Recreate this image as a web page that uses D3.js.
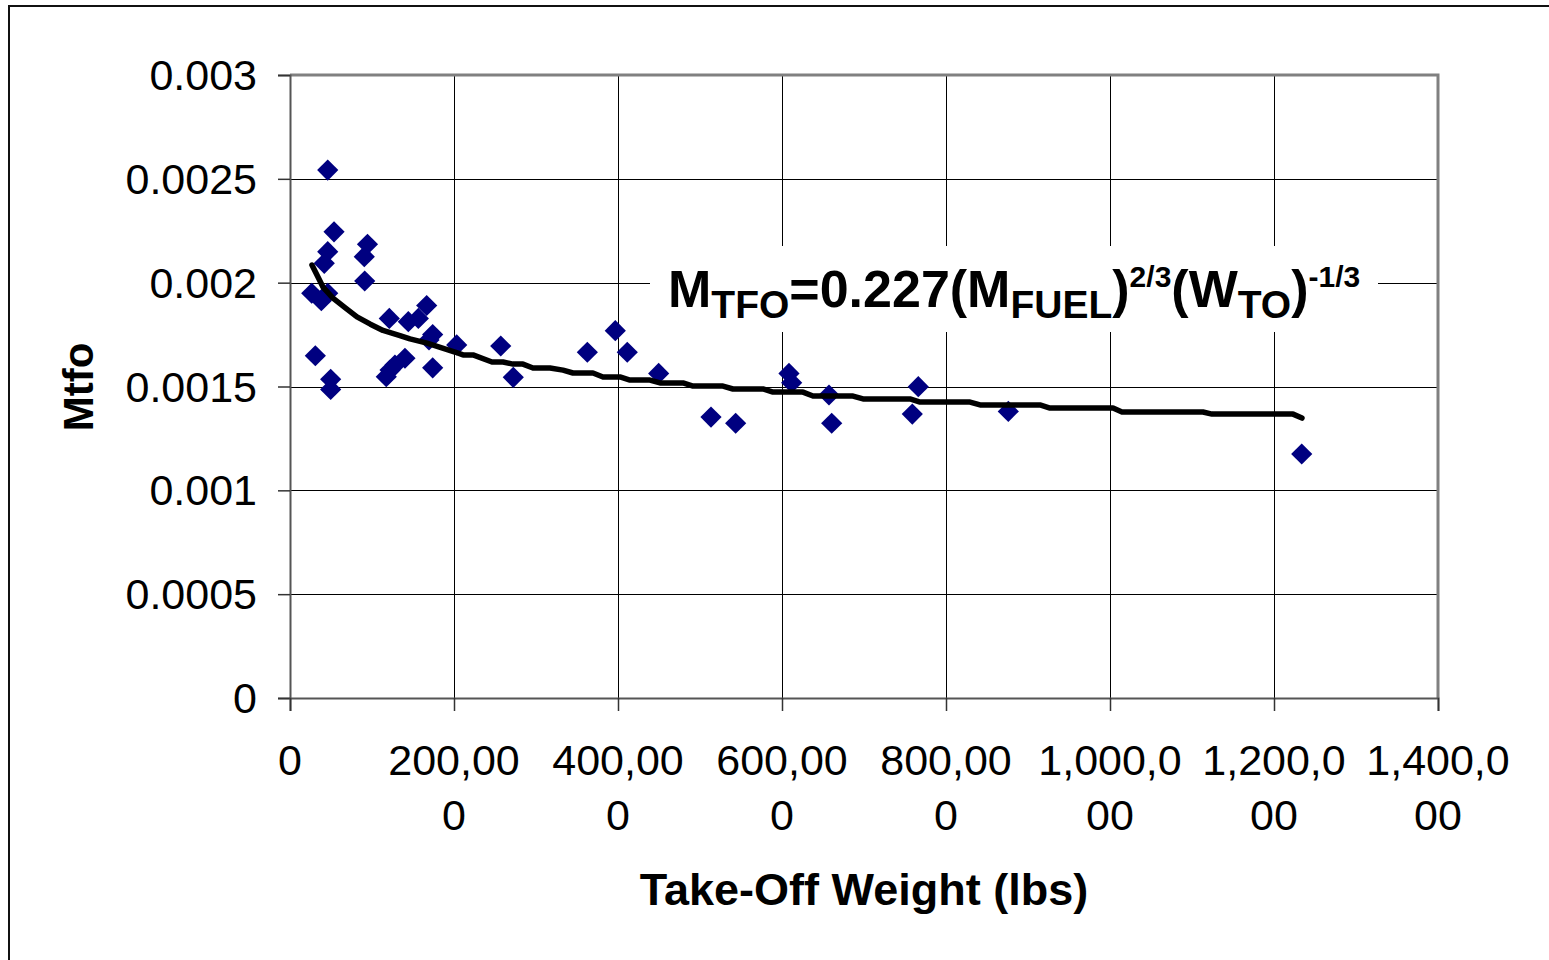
<!DOCTYPE html>
<html>
<head>
<meta charset="utf-8">
<script src="https://cdn.jsdelivr.net/npm/d3@7"></script>
<style>
  html, body { margin: 0; padding: 0; background: #fff; }
  svg { display: block; font-family: "Liberation Sans", Arial, Helvetica, sans-serif; }
</style>
</head>
<body>
<svg id="chart" width="1549" height="960"></svg>
<script>
// Take-off weight (lbs) of each aircraft in the sample
const takeOffWeight = [
  46000, 53700, 94500, 46000, 41800, 90600, 91100, 26500, 46000, 38200,
  121100, 30900, 49600, 49600, 117400, 122000, 128000, 140200, 144300, 156500,
  166700, 174000, 169500, 203300, 174000, 257000, 272300, 362600, 396700, 411300,
  449600, 513400, 543500, 608500, 611800, 657300, 660600, 766200, 758900, 876000,
  1233800
];
// Trapped fuel and oil fraction, Mtfo
const mtfo = [
  0.002542, 0.002245, 0.002185, 0.002149, 0.002093, 0.002125, 0.002008, 0.001949, 0.001949, 0.001913,
  0.001828, 0.001648, 0.001535, 0.001486, 0.001547, 0.001579, 0.001603, 0.001636, 0.001812, 0.001828,
  0.001890, 0.001750, 0.001724, 0.001700, 0.001590, 0.001695, 0.001544, 0.001665, 0.001769, 0.001665,
  0.001563, 0.001353, 0.001323, 0.001563, 0.001518, 0.001459, 0.001323, 0.001499, 0.001367, 0.001380,
  0.001175
];

// Fitted curve M_TFO = 0.227 (M_FUEL)^(2/3) (W_TO)^(-1/3), as tabulated
const fitWeight = [
  26800, 40200, 52400, 67100, 81700, 98000, 113400, 134100, 146300, 167100, 201200, 211000,
  223200, 246300, 259800, 272000, 284100, 296300, 317100, 332900, 345100, 369500,
  381700, 402400, 414600, 439000, 451200, 479300, 491500, 528000, 540200, 576800,
  589000, 625600, 637800, 686600, 698800, 756100, 768300, 829300, 841500, 914600,
  926800, 1003700, 1014600, 1113400, 1124400, 1223200, 1234100
];
const fitMtfo = [
  0.002085, 0.001979, 0.001926, 0.001880, 0.001835, 0.001800, 0.001770, 0.001745, 0.001729, 0.001709, 0.001666, 0.001652,
  0.001652, 0.001618, 0.001618, 0.001608, 0.001608, 0.001589, 0.001589, 0.001579, 0.001565, 0.001565,
  0.001546, 0.001546, 0.001531, 0.001531, 0.001517, 0.001517, 0.001502, 0.001502, 0.001488, 0.001488,
  0.001473, 0.001473, 0.001454, 0.001454, 0.001440, 0.001440, 0.001425, 0.001425, 0.001411, 0.001411,
  0.001396, 0.001396, 0.001377, 0.001377, 0.001367, 0.001367, 0.001348
];

// Axis ticks and their labels (x labels wrap onto two lines)
const xTicks = [0, 200000, 400000, 600000, 800000, 1000000, 1200000, 1400000];
const xTickLines = [["0"], ["200,00", "0"], ["400,00", "0"], ["600,00", "0"], ["800,00", "0"],
                    ["1,000,0", "00"], ["1,200,0", "00"], ["1,400,0", "00"]];
const yTicks = [0, 0.0005, 0.001, 0.0015, 0.002, 0.0025, 0.003];
const yTickLabels = ["0", "0.0005", "0.001", "0.0015", "0.002", "0.0025", "0.003"];

const xTitle = "Take-Off Weight (lbs)";
const yTitle = "Mtfo";

const svg = d3.select("#chart");
const plot = { left: 290, right: 1438, top: 75, bottom: 698 };

const x = d3.scaleLinear().domain([0, 1400000]).range([plot.left, plot.right]);
const y = d3.scaleLinear().domain([0, 0.003]).range([plot.bottom, plot.top]);

// Outer chart frame
svg.append("rect")
  .attr("x", 9).attr("y", 6).attr("width", 1620).attr("height", 1020)
  .attr("fill", "#fff").attr("stroke", "#111").attr("stroke-width", 2);

// Gridlines
const grid = svg.append("g");
grid.selectAll("line.h").data(yTicks.slice(1)).join("line")
  .attr("x1", plot.left).attr("x2", plot.right)
  .attr("y1", d => Math.round(y(d)) + 0.5).attr("y2", d => Math.round(y(d)) + 0.5)
  .attr("stroke", "#000").attr("stroke-width", 1);
grid.selectAll("line.v").data(xTicks.slice(1, -1)).join("line")
  .attr("y1", plot.top).attr("y2", plot.bottom)
  .attr("x1", d => Math.round(x(d)) + 0.5).attr("x2", d => Math.round(x(d)) + 0.5)
  .attr("stroke", "#000").attr("stroke-width", 1);

// Plot area frame (top and right)
svg.append("path")
  .attr("d", `M${plot.left},${plot.top} H${plot.right} V${plot.bottom}`)
  .attr("fill", "none").attr("stroke", "#808080").attr("stroke-width", 3);

// White panel behind the equation
svg.append("rect")
  .attr("x", 650).attr("y", 246).attr("width", 728).attr("height", 86)
  .attr("fill", "#fff");

// Axes
const yAxis = d3.axisLeft(y).tickValues(yTicks).tickSize(12).tickFormat("");
svg.append("g").attr("transform", `translate(${plot.left},0)`).call(yAxis)
  .call(g => g.select(".domain").attr("stroke", "#555").attr("stroke-width", 2))
  .call(g => g.selectAll(".tick line").attr("stroke", "#333").attr("stroke-width", 1.5));
const xAxis = d3.axisBottom(x).tickValues(xTicks).tickSize(13).tickFormat("");
svg.append("g").attr("transform", `translate(0,${plot.bottom})`).call(xAxis)
  .call(g => g.select(".domain").attr("stroke", "#555").attr("stroke-width", 2))
  .call(g => g.selectAll(".tick line").attr("stroke", "#333").attr("stroke-width", 1.5));

// Y tick labels
svg.append("g").selectAll("text").data(yTicks).join("text")
  .attr("x", 257).attr("y", d => y(d) + 15)
  .attr("text-anchor", "end").attr("font-size", 43).attr("fill", "#000")
  .text((d, i) => yTickLabels[i]);

// X tick labels, two lines each
const xl = svg.append("g").selectAll("text").data(xTicks).join("text")
  .attr("text-anchor", "middle").attr("font-size", 43).attr("fill", "#000");
xl.each(function (d, i) {
  const t = d3.select(this);
  xTickLines[i].forEach((line, k) => {
    t.append("tspan").attr("x", x(d)).attr("y", 775 + k * 55).text(line);
  });
});

// Axis titles
svg.append("text")
  .attr("x", (plot.left + plot.right) / 2).attr("y", 905)
  .attr("text-anchor", "middle").attr("font-size", 45).attr("font-weight", "bold")
  .text(xTitle);
svg.append("text")
  .attr("transform", "translate(93,387) rotate(-90)")
  .attr("text-anchor", "middle").attr("font-size", 42).attr("font-weight", "bold")
  .text(yTitle);

// Data points
const pts = takeOffWeight.map((w, i) => ({ w, m: mtfo[i] }));
svg.append("g").selectAll("path").data(pts).join("path")
  .attr("d", d3.symbol().type(d3.symbolSquare).size(225))
  .attr("transform", d => `translate(${x(d.w)},${y(d.m)}) rotate(45)`)
  .attr("fill", "#000080");

// Fitted curve
const fit = fitWeight.map((w, i) => ({ w, m: fitMtfo[i] }));
svg.append("path")
  .datum(fit)
  .attr("d", d3.line().x(d => x(d.w)).y(d => y(d.m)))
  .attr("fill", "none").attr("stroke", "#000").attr("stroke-width", 5.5)
  .attr("stroke-linejoin", "round").attr("stroke-linecap", "round");

// Equation label
const eq = svg.append("text").attr("x", 668).attr("font-weight", "bold").attr("fill", "#000");
const parts = [
  ["M", 52, 307], ["TFO", 39, 318], ["=0.227(M", 52, 307], ["FUEL", 39, 318],
  [")", 52, 307], ["2/3", 30, 287], ["(W", 52, 307], ["TO", 39, 318],
  [")", 52, 307], ["-1/3", 30, 287]
];
parts.forEach(([s, fs, by]) => {
  eq.append("tspan").attr("y", by).attr("font-size", fs).text(s);
});
</script>
</body>
</html>
